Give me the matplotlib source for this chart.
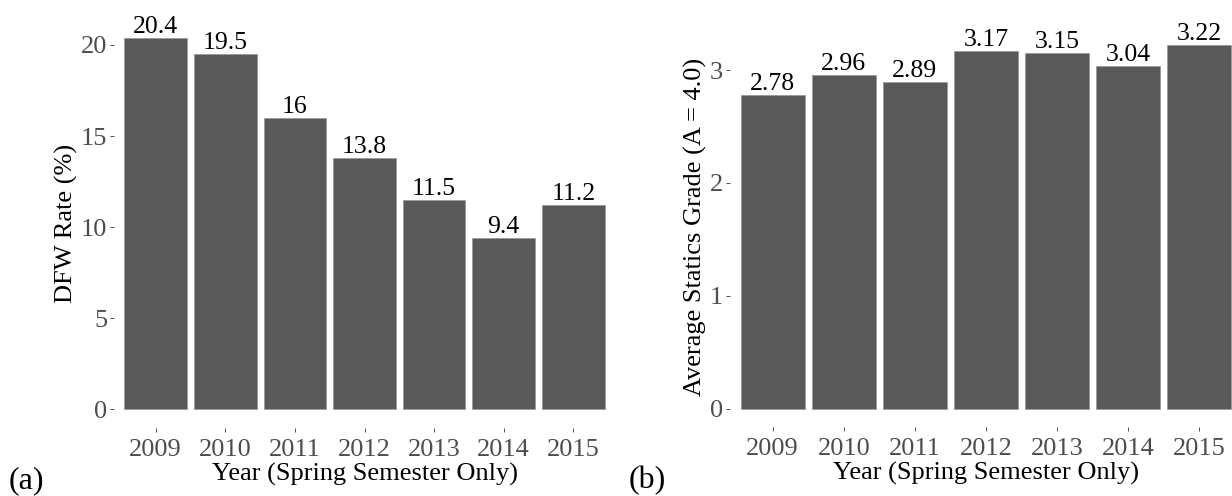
import matplotlib
matplotlib.use("Agg")
import matplotlib.pyplot as plt

years = ["2009", "2010", "2011", "2012", "2013", "2014", "2015"]
dfw_rate = [20.4, 19.5, 16, 13.8, 11.5, 9.4, 11.2]
dfw_labels = ["20.4", "19.5", "16", "13.8", "11.5", "9.4", "11.2"]
avg_grade = [2.78, 2.96, 2.89, 3.17, 3.15, 3.04, 3.22]
grade_labels = ["2.78", "2.96", "2.89", "3.17", "3.15", "3.04", "3.22"]
dfw_ticks = [0, 5, 10, 15, 20]
grade_ticks = [0, 1, 2, 3]

plt.rcParams['font.family'] = ['Liberation Serif', 'DejaVu Serif']

W, H = 1232, 496
fig = plt.figure(figsize=(W / 100, H / 100), dpi=100)
fig.patch.set_facecolor('white')

def make_panel(rect, values, labels, ticks, ylabel, ylim):
    l, t, r, b = rect
    ax = fig.add_axes([l / W, 1 - b / H, (r - l) / W, (b - t) / H])
    x = list(range(len(years)))
    ax.bar(x, values, width=0.9, color='#595959', edgecolor='#9a9a9a', linewidth=0.6)
    for xi, v, lab in zip(x, values, labels):
        ax.text(xi, v, lab, ha='center', va='bottom', fontsize=18.5, color='black')
    ax.set_xlim(-0.6, len(years) - 0.4)
    ax.set_ylim(*ylim)
    ax.set_xticks(x)
    ax.set_xticklabels(years)
    ax.set_yticks(ticks)
    ax.set_yticklabels([str(tk) for tk in ticks])
    for s in ax.spines.values():
        s.set_visible(False)
    ax.tick_params(axis='both', colors='#333333', labelcolor='#4D4D4D',
                   labelsize=19, length=3, width=0.6)
    ax.tick_params(axis='x', pad=5)
    ax.tick_params(axis='y', pad=2)
    ax.set_xlabel("Year (Spring Semester Only)", fontsize=19, color='black', labelpad=1)
    ax.set_ylabel(ylabel, fontsize=19, color='black', labelpad=2)
    ax.set_facecolor('white')
    return ax

ax1 = make_panel((114, 19, 615, 428), dfw_rate, dfw_labels, dfw_ticks,
                 "DFW Rate (%)", (-1.02, 21.42))
ax2 = make_panel((730, 27, 1242, 427), avg_grade, grade_labels, grade_ticks,
                 "Average Statics Grade (A = 4.0)", (-0.161, 3.381))

fig.text(9 / W, 1 - 488 / H, "(a)", fontsize=23, ha='left', va='baseline')
fig.text(629 / W, 1 - 488 / H, "(b)", fontsize=23, ha='left', va='baseline')

fig.savefig("out.png", dpi=100)
